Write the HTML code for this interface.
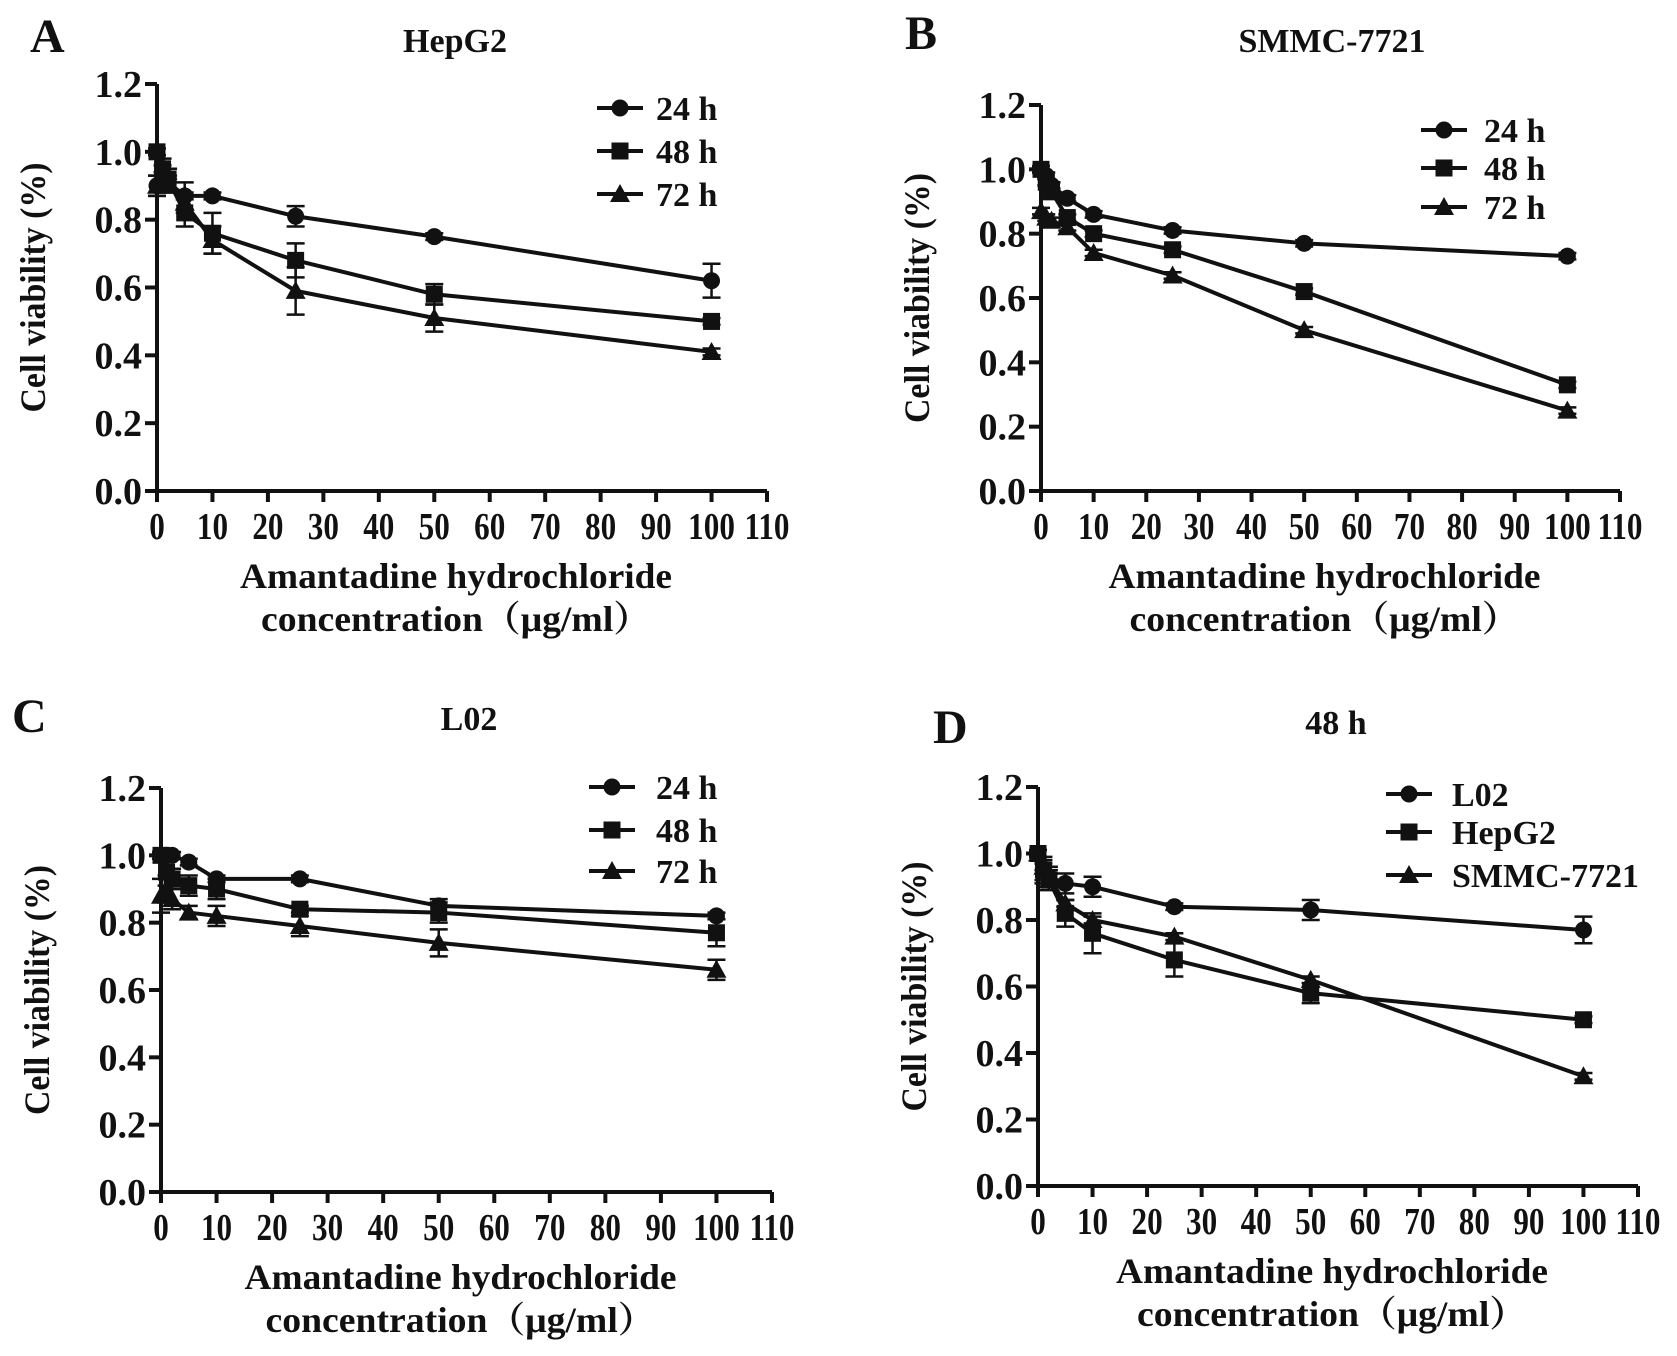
<!DOCTYPE html>
<html><head><meta charset="utf-8">
<style>
html,body{margin:0;padding:0;background:#fff;}
svg{display:block;}
text{font-family:"Liberation Serif","Noto Serif CJK SC",serif;font-weight:bold;fill:#111;}
</style></head>
<body>
<svg id="fig" width="1677" height="1356" viewBox="0 0 1677 1356" xmlns="http://www.w3.org/2000/svg"></svg>
<script>
const concentrations = [0, 1, 2, 5, 10, 25, 50, 100];
const xTicks = [0,10,20,30,40,50,60,70,80,90,100,110];
const yTicks = [0.0,0.2,0.4,0.6,0.8,1.0,1.2];
const hepg2_24 = [0.90, 0.93, 0.91, 0.87, 0.87, 0.81, 0.75, 0.62];
const hepg2_48 = [1.00, 0.95, 0.92, 0.82, 0.76, 0.68, 0.58, 0.50];
const hepg2_72 = [0.90, 0.92, 0.90, 0.85, 0.74, 0.59, 0.51, 0.41];
const hepg2_err24 = [0.03, 0.03, 0.02, 0.04, 0.01, 0.03, 0.01, 0.05];
const hepg2_err48 = [0.01, 0.03, 0.03, 0.04, 0.06, 0.05, 0.03, 0.01];
const hepg2_err72 = [0.03, 0.02, 0.02, 0.03, 0.04, 0.07, 0.04, 0.01];
const smmc_24 = [1.00, 0.98, 0.95, 0.91, 0.86, 0.81, 0.77, 0.73];
const smmc_48 = [1.00, 0.96, 0.93, 0.85, 0.80, 0.75, 0.62, 0.33];
const smmc_72 = [0.87, 0.85, 0.84, 0.82, 0.74, 0.67, 0.50, 0.25];
const smmc_err = [0.01, 0.01, 0.01, 0.01, 0.01, 0.01, 0.01, 0.01];
const l02_24 = [1.00, 1.00, 1.00, 0.98, 0.93, 0.93, 0.85, 0.82];
const l02_48 = [1.00, 0.95, 0.93, 0.91, 0.90, 0.84, 0.83, 0.77];
const l02_72 = [0.88, 0.90, 0.87, 0.83, 0.82, 0.79, 0.74, 0.66];
const l02_err24 = [0.01, 0.01, 0.01, 0.01, 0.01, 0.01, 0.02, 0.01];
const l02_err48 = [0.01, 0.04, 0.03, 0.03, 0.03, 0.01, 0.03, 0.04];
const l02_err72 = [0.05, 0.04, 0.03, 0.02, 0.03, 0.03, 0.04, 0.03];
const labelsTime = ["24 h", "48 h", "72 h"];
const labelsCells = ["L02", "HepG2", "SMMC-7721"];

const NS = "http://www.w3.org/2000/svg";
const svg = document.getElementById("fig");
function mk(tag, attrs, parent){
  const e = document.createElementNS(NS, tag);
  for (const k in attrs) e.setAttribute(k, attrs[k]);
  (parent||svg).appendChild(e);
  return e;
}
function marker(g, kind, cx, cy){
  let m;
  if (kind === 0) m = mk("circle", {cx:cx, cy:cy, r:8.5, fill:"#111"}, g);
  else if (kind === 1) m = mk("rect", {x:cx-8.5, y:cy-8.5, width:17, height:17, fill:"#111"}, g);
  else m = mk("polygon", {points:`${cx},${cy-10} ${cx+10},${cy+8} ${cx-10},${cy+8}`, fill:"#111"}, g);
  return m;
}
const panels = [
  {id:"a", letter:"A", title:"HepG2", lx:30, ly:52, tx:455, ty:52, x0:157, x1:767, y0:491, y1:84,
   series:[hepg2_24, hepg2_48, hepg2_72], errs:[hepg2_err24, hepg2_err48, hepg2_err72], labels:labelsTime,
   legX:597, legY:[108,151,194], legT:656},
  {id:"b", letter:"B", title:"SMMC-7721", lx:905, ly:49, tx:1332, ty:52, x0:1041, x1:1620, y0:491, y1:105,
   series:[smmc_24, smmc_48, smmc_72], errs:[smmc_err, smmc_err, smmc_err], labels:labelsTime,
   legX:1421, legY:[130,168,207], legT:1484},
  {id:"c", letter:"C", title:"L02", lx:12, ly:732, tx:469, ty:730, x0:161, x1:772, y0:1192, y1:788,
   series:[l02_24, l02_48, l02_72], errs:[l02_err24, l02_err48, l02_err72], labels:labelsTime,
   legX:589, legY:[787,830,871], legT:656},
  {id:"d", letter:"D", title:"48 h", lx:933, ly:743, tx:1336, ty:734, x0:1038, x1:1638, y0:1186, y1:787,
   series:[l02_48, hepg2_48, smmc_48], errs:[l02_err48, hepg2_err48, smmc_err], labels:labelsCells,
   legX:1386, legY:[794,832,875], legT:1452}
];
panels.forEach(p => {
  const g = mk("g", {});
  
  
  const xs = v => p.x0 + (p.x1 - p.x0) * v / 110;
  const ys = v => p.y0 - (p.y0 - p.y1) * v / 1.2;
  const L = mk("text", {x:p.lx, y:p.ly, "font-size":48}, g); L.textContent = p.letter;
  
  
  const T = mk("text", {x:p.tx, y:p.ty, "font-size":34, "text-anchor":"middle"}, g); T.textContent = p.title;
  
  
  const ax = mk("path", {d:`M${p.x0},${p.y1} V${p.y0} H${p.x1}`, stroke:"#111", "stroke-width":4, fill:"none"}, g);
  
  
  yTicks.forEach(t => {
    const y = ys(t);
    mk("line", {x1:p.x0-12, x2:p.x0, y1:y, y2:y, stroke:"#111", "stroke-width":4}, g);
    const tl = mk("text", {x:p.x0-15, y:y+13, "font-size":38, "text-anchor":"end"}, g);
    tl.textContent = t.toFixed(1);
    
    
  });
  xTicks.forEach(t => {
    const x = xs(t);
    mk("line", {x1:x, x2:x, y1:p.y0, y2:p.y0+11, stroke:"#111", "stroke-width":4}, g);
    const tl = mk("text", {x:x, y:p.y0+48, "font-size":38, "text-anchor":"middle", transform:`translate(${x},0) scale(0.82,1) translate(${-x},0)`}, g);
    tl.textContent = t;
    
    
  });
  const cx = (p.x0 + p.x1) / 2 - 6;
  const xt1 = mk("text", {x:cx, y:p.y0+97, "font-size":36, "text-anchor":"middle", textLength:432, lengthAdjust:"spacingAndGlyphs"}, g);
  xt1.textContent = "Amantadine hydrochloride";
  
  
  const xt2 = mk("text", {x:cx, y:p.y0+140, "font-size":36, "text-anchor":"middle", textLength:390, lengthAdjust:"spacingAndGlyphs"}, g);
  xt2.textContent = "concentration（μg/ml）";
  
  
  const ymid = (p.y0 + p.y1) / 2;
  const yx = p.x0 - 112;
  const yt = mk("text", {x:yx, y:ymid, "font-size":36, "text-anchor":"middle", transform:`rotate(-90 ${yx} ${ymid})`, textLength:250, lengthAdjust:"spacingAndGlyphs"}, g);
  yt.textContent = "Cell viability (%)";
  
  
  p.series.forEach((s, si) => {
    const sg = mk("g", {}, g);
    
    
    const pts = s.map((v, i) => `${xs(concentrations[i])},${ys(v)}`).join(" ");
    mk("polyline", {points:pts, fill:"none", stroke:"#111", "stroke-width":4, "stroke-linejoin":"round"}, sg);
    s.forEach((v, i) => {
      const x = xs(concentrations[i]);
      const e = p.errs[si][i];
      const ya = ys(v + e), yb = ys(v - e);
      mk("path", {d:`M${x},${ya} V${yb} M${x-9},${ya} H${x+9} M${x-9},${yb} H${x+9}`, stroke:"#111", "stroke-width":2.5, fill:"none"}, sg);
      const m = marker(sg, si, x, ys(v));
      
      
    });
  });
  p.labels.forEach((lab, i) => {
    const lg = mk("g", {}, g);
    
    
    const y = p.legY[i];
    mk("line", {x1:p.legX, x2:p.legX+46, y1:y, y2:y, stroke:"#111", "stroke-width":4}, lg);
    marker(lg, i, p.legX+23, y);
    const t = mk("text", {x:p.legT, y:y+12, "font-size":34}, lg);
    t.textContent = lab;
  });
});
</script>
</body></html>
